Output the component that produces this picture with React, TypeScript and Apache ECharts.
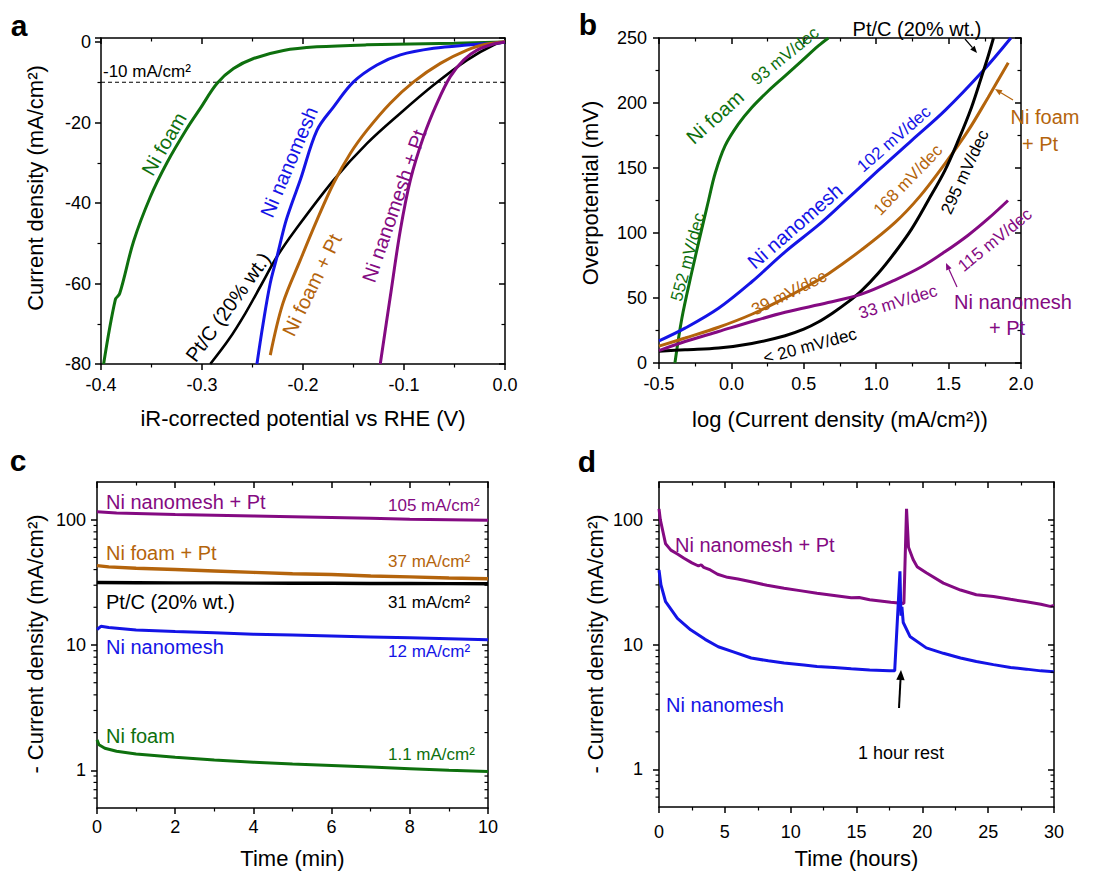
import { useEffect, useRef } from 'react';
import * as echarts from 'echarts';

const FONT = '"Liberation Sans", Arial, Helvetica, sans-serif';
const GREEN = '#0e700e';
const BLUE = '#1414e6';
const BROWN = '#b4640c';
const PURPLE = '#840a82';
const BLACK = '#000000';

// ---------- Panel a: LSV (potential V, current density mA/cm2) ----------
const A_NI_FOAM = [
  [-0.3974, -80], [-0.3858, -64], [-0.3815, -62.5], [-0.3677, -49.5], [-0.3512, -38.5],
  [-0.3347, -30], [-0.3149, -21.5], [-0.3017, -16.5], [-0.2852, -10.3], [-0.2688, -6.6],
  [-0.249, -4.1], [-0.2193, -2.1], [-0.1863, -1.2], [-0.137, -0.7], [-0.05, -0.3], [0, 0],
];
const A_NI_NANOMESH = [
  [-0.2456, -80], [-0.2395, -70], [-0.2325, -60], [-0.2257, -53.3], [-0.2175, -45], [-0.2109, -40],
  [-0.2027, -34.3], [-0.1861, -21.9], [-0.1697, -16.1], [-0.15, -9.9], [-0.1268, -5.7],
  [-0.1036, -3.2], [-0.0707, -1.57], [-0.0376, -0.75], [-0.0047, -0.17], [0, 0],
];
const A_NI_FOAM_PT = [
  [-0.2324, -77.8], [-0.22, -65], [-0.2027, -54.2], [-0.1861, -44.2], [-0.1697, -35.1],
  [-0.1532, -27.7], [-0.1366, -21.9], [-0.1136, -15.2], [-0.0905, -9.9], [-0.064, -5.3],
  [-0.0376, -2.0], [-0.0178, -0.5], [0, 0.1],
];
const A_PTC = [
  [-0.2918, -80], [-0.2737, -74], [-0.2571, -67.4], [-0.2406, -60], [-0.2257, -53.3],
  [-0.2076, -46.7], [-0.1697, -34.3], [-0.1366, -25.2], [-0.1036, -17.7], [-0.0707, -10.7],
  [-0.0376, -4.5], [-0.0113, -0.75], [0, 0],
];
const A_NI_NANOMESH_PT = [
  [-0.1235, -80], [-0.1136, -63.3], [-0.1036, -46.7], [-0.0937, -34.3], [-0.0806, -23.5],
  [-0.0673, -15.2], [-0.0542, -8.6], [-0.041, -4.5], [-0.0277, -2], [-0.0113, -0.5], [0, 0],
];
const A_REF_LINE = [[-0.4, -10], [0, -10]];

// ---------- Panel b: Tafel (log j, overpotential mV) ----------
const B_NI_FOAM = [
  [-0.39, 0], [-0.342, 34.5], [-0.273, 70.2], [-0.204, 103.4], [-0.158, 125], [-0.112, 146],
  [-0.044, 167], [0.049, 183.9], [0.141, 196.6], [0.256, 209.4], [0.371, 220.9], [0.486, 232.4],
  [0.6, 243.9], [0.67, 250],
];
const B_NI_NANOMESH = [
  [-0.5, 17], [-0.32, 26.8], [-0.089, 42.1], [0.141, 62.5], [0.371, 85.5], [0.6, 106],
  [0.75, 121], [1.014, 148.1], [1.244, 171.1], [1.474, 194.1], [1.727, 223.4], [1.93, 250],
];
const B_NI_FOAM_PT = [
  [-0.5, 13], [-0.32, 19.2], [-0.089, 27.5], [0.141, 37.5], [0.371, 50], [0.555, 61],
  [0.668, 68.5], [0.898, 87], [1.129, 108], [1.3, 128], [1.474, 153.2], [1.635, 178.7],
  [1.773, 204.3], [1.912, 231],
];
const B_PTC = [
  [-0.5, 9], [-0.32, 10.2], [-0.089, 11.5], [0.141, 15], [0.371, 21], [0.5, 26], [0.6, 31.5],
  [0.7, 38.5], [0.806, 47], [0.898, 55.5], [1.014, 69], [1.129, 85], [1.244, 103], [1.359, 125],
  [1.474, 148], [1.566, 171], [1.658, 196.6], [1.727, 220], [1.773, 236], [1.81, 250],
];
const B_NI_NANOMESH_PT = [
  [-0.5, 9.5], [-0.32, 16.5], [-0.089, 24.2], [0.141, 31.9], [0.371, 39], [0.668, 46.5],
  [0.898, 53], [1.129, 63.8], [1.313, 74], [1.474, 85.5], [1.635, 98.3], [1.773, 111],
  [1.91, 125],
];

// ---------- Panel c: chronoamperometry (min, -j mA/cm2) ----------
const C_NI_NANOMESH_PT = [
  [0, 116], [0.5, 113], [1, 112], [2, 110], [3, 108.5], [4, 107], [5, 105.5], [6, 104],
  [7, 102.5], [8, 101], [9, 100], [10, 99],
];
const C_NI_FOAM_PT = [
  [0, 43], [0.3, 42], [1, 41], [2, 40], [3, 39], [4, 38], [5, 37], [6, 36.5], [7, 35.5],
  [8, 35], [9, 34.3], [10, 33.8],
];
const C_PTC = [
  [0, 31.5], [1, 31.4], [2, 31.3], [3, 31.3], [4, 31.2], [5, 31.1], [6, 31.1], [7, 31],
  [8, 31], [9, 30.9], [10, 30.8],
];
const C_NI_NANOMESH = [
  [0, 13.3], [0.1, 14.1], [0.3, 13.8], [1, 13.2], [2, 12.8], [3, 12.5], [4, 12.2], [5, 12.0],
  [6, 11.8], [7, 11.6], [8, 11.4], [9, 11.2], [10, 11.0],
];
const C_NI_FOAM = [
  [0, 1.75], [0.05, 1.6], [0.2, 1.5], [0.5, 1.42], [1, 1.35], [2, 1.27], [3, 1.21], [4, 1.16],
  [5, 1.12], [6, 1.09], [7, 1.06], [8, 1.03], [9, 1.0], [10, 0.98],
];

// ---------- Panel d: long-term stability (hours, -j mA/cm2) ----------
const D_NI_NANOMESH_PT = [
  [0, 122], [0.1, 100], [0.3, 80], [0.5, 64], [0.9, 57], [1.4, 53], [1.9, 49], [2.5, 45],
  [3.0, 42.5], [3.2, 43.5], [3.4, 41.5], [3.9, 39.5], [4.45, 36.5], [5.2, 34.5], [6, 33.5],
  [7, 31.8], [8.2, 29.8], [9.5, 28.2], [10.7, 27], [12, 25.7], [13.3, 24.7], [14.6, 23.7],
  [15.2, 23.8], [16, 22.8], [16.8, 22.3], [17.6, 21.8], [18.2, 21.5], [18.6, 21.3],
  [18.8, 122], [18.95, 60], [19.3, 48], [19.6, 42], [20.3, 37.5], [21.6, 31], [22.9, 27.3],
  [24.1, 25], [25.4, 24.2], [26.7, 23], [27.9, 22], [29, 21], [29.7, 20.2], [30, 20.5],
];
const D_NI_NANOMESH = [
  [0, 39.5], [0.15, 30], [0.5, 22], [1.4, 16.2], [2.4, 13.1], [3.5, 11], [4.5, 9.6], [5.7, 8.7],
  [7, 7.8], [8.3, 7.4], [9.5, 7.1], [11, 6.85], [12, 6.67], [13.3, 6.55], [14.6, 6.4],
  [16, 6.25], [17.5, 6.15], [17.9, 6.15], [18.3, 38.5], [18.38, 17], [18.45, 20], [18.55, 15],
  [19.06, 11.6], [20.3, 9.4], [21.6, 8.5], [22.9, 7.8], [24.1, 7.3], [25.4, 6.9], [26.7, 6.55],
  [27.9, 6.35], [29, 6.15], [30, 6.05],
];

const LOG_MAJOR = [1, 10, 100];
const LOG_MINOR = [0.6, 0.7, 0.8, 0.9, 2, 3, 4, 5, 6, 7, 8, 9, 20, 30, 40, 50, 60, 70, 80, 90];

const AXL = { color: '#000', width: 1.5 };
const TICKL = { color: '#000', width: 1.5 };
const MINL = { color: '#000', width: 1.2 };
const LABEL = { color: '#000', fontSize: 18, fontFamily: FONT };
const NAME = { color: '#000', fontSize: 22, fontFamily: FONT };

const fix1 = (v: number) => (Math.abs(v) < 1e-9 ? '0.0' : v.toFixed(1));

function xPair(grid: number, min: number, max: number, interval: number, fmt: any, margin: number, name: string, gap: number) {
  const common = {
    type: 'value', gridIndex: grid, min, max, interval,
    splitLine: { show: false }, minorSplitLine: { show: false },
    axisLine: { show: true, onZero: false, lineStyle: AXL },
    minorTick: { show: true, splitNumber: 2, length: 3.5, lineStyle: MINL },
  };
  return [
    {
      ...common, position: 'bottom', name, nameLocation: 'middle', nameGap: gap, nameTextStyle: NAME,
      axisTick: { show: true, inside: false, length: 6, lineStyle: TICKL },
      axisLabel: { show: true, margin, formatter: fmt, ...LABEL },
    },
    {
      ...common, position: 'top',
      axisTick: { show: true, inside: true, length: 6, lineStyle: TICKL },
      axisLabel: { show: false },
    },
  ];
}

function yPair(grid: number, min: number, max: number, interval: number, fmt: any, margin: number) {
  const common = {
    type: 'value', gridIndex: grid, min, max, interval,
    splitLine: { show: false }, minorSplitLine: { show: false },
    axisLine: { show: true, onZero: false, lineStyle: AXL },
    minorTick: { show: true, splitNumber: 2, length: 3.5, lineStyle: MINL },
  };
  return [
    {
      ...common, position: 'left',
      axisTick: { show: true, inside: false, length: 6, lineStyle: TICKL },
      axisLabel: { show: true, margin, formatter: fmt, ...LABEL },
    },
    {
      ...common, position: 'right',
      axisTick: { show: true, inside: true, length: 6, lineStyle: TICKL },
      axisLabel: { show: false },
    },
  ];
}

const logFmt = (v: number) => {
  const l = Math.log10(v);
  return Math.abs(l - Math.round(l)) < 1e-6 ? String(Math.round(v)) : '';
};

function logPair(grid: number, margin: number) {
  const common = {
    type: 'log', logBase: 10, gridIndex: grid, min: 0.5, max: 200,
    splitLine: { show: false }, minorTick: { show: false }, minorSplitLine: { show: false },
    axisLine: { show: true, onZero: false, lineStyle: AXL },
  };
  return [
    {
      ...common, position: 'left',
      axisTick: { show: true, inside: false, length: 6, lineStyle: TICKL, customValues: LOG_MAJOR },
      axisLabel: { show: true, margin, formatter: logFmt, customValues: LOG_MAJOR, ...LABEL },
    },
    {
      ...common, position: 'right',
      axisTick: { show: true, inside: true, length: 6, lineStyle: TICKL, customValues: LOG_MAJOR },
      axisLabel: { show: false },
    },
  ];
}

function minorLogSeries(axisIndex: number, xmin: number, xmax: number) {
  return {
    type: 'custom', xAxisIndex: axisIndex, yAxisIndex: axisIndex, silent: true, z: 5,
    encode: { x: 0, y: 1 },
    data: LOG_MINOR.map((v) => [xmin, v]),
    renderItem: (_p: any, api: any) => {
      const v = api.value(1);
      const pl = api.coord([xmin, v]);
      const pr = api.coord([xmax, v]);
      return {
        type: 'group',
        children: [
          { type: 'line', shape: { x1: pl[0] - 3.5, y1: pl[1], x2: pl[0], y2: pl[1] }, style: { stroke: '#000', lineWidth: 1.2 } },
          { type: 'line', shape: { x1: pr[0] - 3.5, y1: pr[1], x2: pr[0], y2: pr[1] }, style: { stroke: '#000', lineWidth: 1.2 } },
        ],
      };
    },
  };
}

function line(axisIndex: number, data: number[][], color: string, smooth: any, width = 3, dash: any = 'solid') {
  return {
    type: 'line', xAxisIndex: axisIndex, yAxisIndex: axisIndex, data, showSymbol: false, symbol: 'none',
    smooth, clip: true,
    lineStyle: { color, width, type: dash }, itemStyle: { color }, silent: true,
  };
}

function txt(x: number, y: number, text: string, color: string, size: number, rot = 0, align = 'center', weight = 'normal') {
  return {
    type: 'text', x, y, rotation: (rot * Math.PI) / 180, silent: true, z: 100,
    style: { text, fill: color, fontSize: size, fontFamily: FONT, fontWeight: weight, align, verticalAlign: 'middle' },
  };
}

function arrow(x1: number, y1: number, x2: number, y2: number, color: string, w: number, head: number) {
  const ang = Math.atan2(y2 - y1, x2 - x1);
  const bx = x2 - head * Math.cos(ang);
  const by = y2 - head * Math.sin(ang);
  const hw = head * 0.42;
  const px = -Math.sin(ang) * hw;
  const py = Math.cos(ang) * hw;
  return [
    { type: 'line', silent: true, z: 100, shape: { x1, y1, x2: bx, y2: by }, style: { stroke: color, lineWidth: w } },
    { type: 'polygon', silent: true, z: 100, shape: { points: [[x2, y2], [bx + px, by + py], [bx - px, by - py]] }, style: { fill: color } },
  ];
}

const option: any = {
  animation: false,
  backgroundColor: '#ffffff',
  grid: [
    { left: 101, top: 38, width: 404, height: 326 },
    { left: 659, top: 38, width: 362, height: 325 },
    { left: 97, top: 482, width: 391, height: 326 },
    { left: 659, top: 482, width: 395, height: 325 },
  ],
  xAxis: [
    ...xPair(0, -0.4, 0, 0.1, fix1, 12, 'iR-corrected potential vs RHE (V)', 43),
    ...xPair(1, -0.5, 2.0, 0.5, fix1, 12, 'log (Current density (mA/cm\u00b2))', 45),
    ...xPair(2, 0, 10, 2, null, 10, 'Time (min)', 39),
    ...xPair(3, 0, 30, 5, null, 16, 'Time (hours)', 40),
  ],
  yAxis: [
    ...yPair(0, -80, 1, 20, (v: number) => (v > 0.5 ? '' : String(v)), 10),
    ...yPair(1, 0, 250, 50, null, 12),
    ...logPair(2, 11),
    ...logPair(3, 16),
  ],
  series: [
    line(0, A_REF_LINE, BLACK, false, 1.2, [4, 3]),
    line(0, A_NI_FOAM, GREEN, 0.35),
    line(0, A_PTC, BLACK, 0.35, 2.6),
    line(0, A_NI_NANOMESH, BLUE, 0.35),
    line(0, A_NI_FOAM_PT, BROWN, 0.35),
    line(0, A_NI_NANOMESH_PT, PURPLE, 0.35),

    line(2, B_NI_FOAM, GREEN, 0.35),
    line(2, B_NI_NANOMESH, BLUE, 0.35),
    line(2, B_NI_FOAM_PT, BROWN, 0.35),
    line(2, B_PTC, BLACK, 0.35),
    line(2, B_NI_NANOMESH_PT, PURPLE, 0.35),

    line(4, C_NI_NANOMESH_PT, PURPLE, false),
    line(4, C_NI_FOAM_PT, BROWN, false, 3.4),
    line(4, C_PTC, BLACK, false, 3.4),
    line(4, C_NI_NANOMESH, BLUE, false),
    line(4, C_NI_FOAM, GREEN, false),
    minorLogSeries(4, 0, 10),

    line(6, D_NI_NANOMESH_PT, PURPLE, false),
    line(6, D_NI_NANOMESH, BLUE, false),
    minorLogSeries(6, 0, 30),
  ],
  graphic: [
    // panel letters
    txt(19, 25, 'a', BLACK, 30, 0, 'center', 'bold'),
    txt(588, 24, 'b', BLACK, 30, 0, 'center', 'bold'),
    txt(18, 460, 'c', BLACK, 30, 0, 'center', 'bold'),
    txt(587, 461, 'd', BLACK, 30, 0, 'center', 'bold'),
    // y titles
    txt(35, 188, 'Current density (mA/cm\u00b2)', BLACK, 22, 90),
    txt(590, 193, 'Overpotential (mV)', BLACK, 22, 90),
    txt(35, 644, '- Current density (mA/cm\u00b2)', BLACK, 22, 90),
    txt(595, 644, '- Current density (mA/cm\u00b2)', BLACK, 22, 90),
    // panel a
    txt(103, 71, '-10 mA/cm\u00b2', BLACK, 17, 0, 'left'),
    txt(164, 144, 'Ni foam', GREEN, 20, 60),
    txt(289, 162, 'Ni nanomesh', BLUE, 20, 67),
    txt(228, 307, 'Pt/C (20% wt.)', BLACK, 20, 54),
    txt(312, 285, 'Ni foam + Pt', BROWN, 20, 64),
    txt(394, 206, 'Ni nanomesh + Pt', PURPLE, 20, 71),
    // panel b
    txt(917, 29, 'Pt/C (20% wt.)', BLACK, 20),
    ...arrow(965, 39, 977, 53, BLACK, 1.2, 7),
    txt(715, 117, 'Ni foam', GREEN, 20, 42),
    txt(785, 56, '93 mV/dec', GREEN, 17, 39),
    txt(688, 257, '552 mV/dec', GREEN, 17, 75),
    txt(795, 226, 'Ni nanomesh', BLUE, 20, 41),
    txt(894, 139, '102 mV/dec', BLUE, 17, 41),
    txt(908, 180, '168 mV/dec', BROWN, 17, 46),
    txt(965, 172, '295 mV/dec', BLACK, 17, 65),
    txt(789, 293, '39 mV/dec', BROWN, 17, 26),
    txt(898, 302, '33 mV/dec', PURPLE, 17, 17),
    txt(810, 346, '< 20 mV/dec', BLACK, 17, 15),
    txt(995, 240, '115 mV/dec', PURPLE, 17, 39),
    txt(1045, 117, 'Ni foam', BROWN, 20),
    txt(1040, 144, '+ Pt', BROWN, 20),
    ...arrow(1013, 100, 995, 89, BROWN, 1.2, 7),
    txt(1013, 302, 'Ni nanomesh', PURPLE, 20),
    txt(1007, 328, '+ Pt', PURPLE, 20),
    ...arrow(957, 287, 946, 263, PURPLE, 1.2, 7),
    // panel c
    txt(106, 502, 'Ni nanomesh + Pt', PURPLE, 20, 0, 'left'),
    txt(388, 505, '105 mA/cm\u00b2', PURPLE, 17, 0, 'left'),
    txt(106, 553, 'Ni foam + Pt', BROWN, 20, 0, 'left'),
    txt(388, 561, '37 mA/cm\u00b2', BROWN, 17, 0, 'left'),
    txt(106, 602, 'Pt/C (20% wt.)', BLACK, 20, 0, 'left'),
    txt(388, 602, '31 mA/cm\u00b2', BLACK, 17, 0, 'left'),
    txt(106, 647, 'Ni nanomesh', BLUE, 20, 0, 'left'),
    txt(388, 651, '12 mA/cm\u00b2', BLUE, 17, 0, 'left'),
    txt(106, 736, 'Ni foam', GREEN, 20, 0, 'left'),
    txt(388, 754, '1.1 mA/cm\u00b2', GREEN, 17, 0, 'left'),
    // panel d
    txt(675, 545, 'Ni nanomesh + Pt', PURPLE, 20, 0, 'left'),
    txt(666, 705, 'Ni nanomesh', BLUE, 20, 0, 'left'),
    txt(858, 753, '1 hour rest', BLACK, 18, 0, 'left'),
    ...arrow(899, 708, 901, 670, BLACK, 2, 10),
  ],
};

export default function App() {
  const ref = useRef<HTMLDivElement>(null);
  useEffect(() => {
    if (!ref.current) return;
    const chart = echarts.init(ref.current, null, { renderer: 'svg' });
    chart.setOption(option);
    return () => chart.dispose();
  }, []);
  return (
    <div
      ref={ref}
      style={{ position: 'absolute', left: 0, top: 0, width: 1094, height: 871, background: '#fff' }}
    />
  );
}
